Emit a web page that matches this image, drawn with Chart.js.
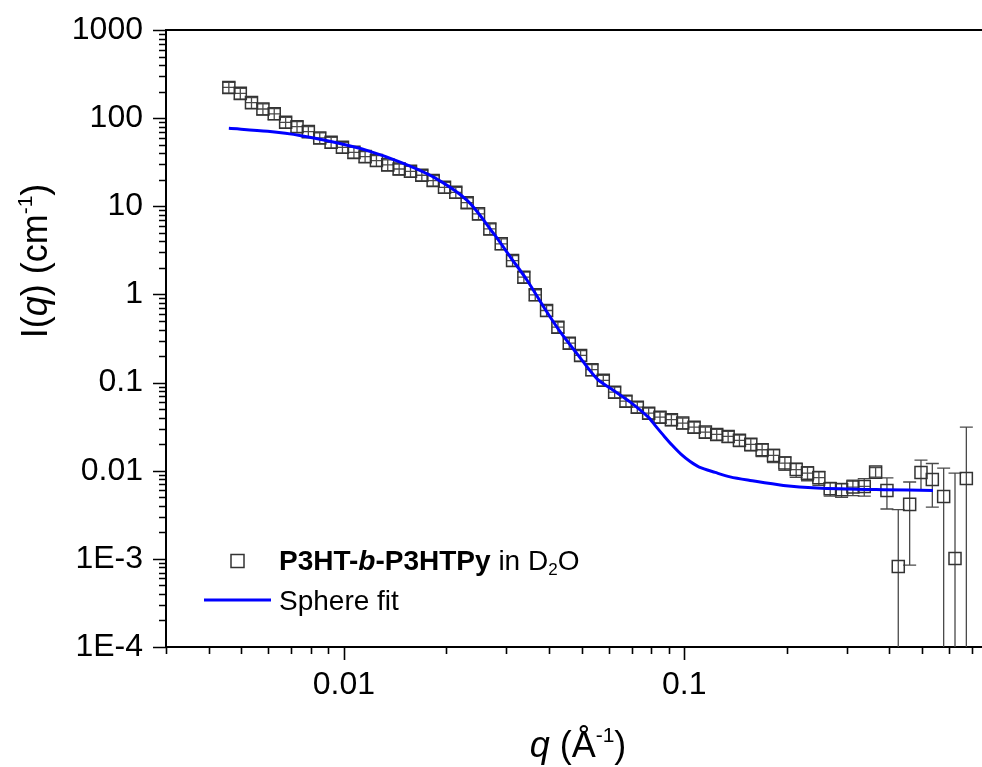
<!DOCTYPE html>
<html>
<head>
<meta charset="utf-8">
<script src="https://cdn.jsdelivr.net/npm/chart.js@4.4.1/dist/chart.umd.min.js"></script>
<style>
  html, body { margin: 0; padding: 0; background: #fff; }
  canvas { display: block; }
</style>
</head>
<body>
<canvas id="sans" width="982" height="767"></canvas>
<script>
// SANS curve, P3HT-b-P3HTPy in D2O
const qData = [
  0.00459, 0.00496, 0.00535, 0.00578, 0.00624, 0.00674, 0.00728, 0.00786, 0.00849, 0.00917,
  0.00990, 0.0107, 0.01154, 0.01246, 0.01345, 0.01453, 0.01569, 0.01694, 0.01829, 0.01975,
  0.02132, 0.02302, 0.02486, 0.02684, 0.02899, 0.0313, 0.03379, 0.03649, 0.0394, 0.04254,
  0.04594, 0.0496, 0.05356, 0.05783, 0.06245, 0.06743, 0.0728, 0.07861, 0.08488, 0.09169,
  0.09899, 0.1069, 0.1154, 0.1246, 0.1346, 0.1453, 0.1569, 0.1694, 0.183, 0.1976,
  0.2133, 0.2303, 0.2487, 0.2685, 0.29, 0.3131, 0.3381, 0.3651, 0.3942, 0.4256,
  0.4597, 0.4963, 0.5359, 0.5786, 0.6248, 0.6746
];
const iData = [
  223, 191, 150, 127, 112, 89.6, 80.1, 70.3, 59.6, 53.2,
  46.7, 40.9, 36.6, 33.0, 29.5, 26.5, 24.9, 22.5, 19.6, 16.4,
  14.4, 11.0, 8.20, 5.54, 3.75, 2.42, 1.57, 0.990, 0.657, 0.425,
  0.280, 0.203, 0.140, 0.106, 0.0778, 0.0615, 0.0526, 0.0450, 0.0405, 0.0379,
  0.0347, 0.0312, 0.0274, 0.0258, 0.0245, 0.0221, 0.0199, 0.0173, 0.0149, 0.0122,
  0.0103, 0.00939, 0.00833, 0.00625, 0.00609, 0.00652, 0.00664, 0.00964, 0.00598, 0.00082,
  0.00415, 0.00957, 0.00797, 0.00511, 0.00101, 0.00818
];
const iErr = [
  31, 27, 21, 18, 16, 12.5, 11.2, 9.8, 8.3, 7.4,
  6.5, 5.7, 5.1, 4.6, 4.1, 3.7, 3.5, 3.1, 2.7, 2.3,
  2.0, 1.5, 1.15, 0.78, 0.52, 0.34, 0.22, 0.14, 0.092, 0.060,
  0.039, 0.028, 0.020, 0.015, 0.011, 0.0086, 0.0074, 0.0063, 0.0057, 0.0053,
  0.0049, 0.0044, 0.0038, 0.0036, 0.0035, 0.0033, 0.0031, 0.0028, 0.0025, 0.0021,
  0.0019, 0.0017, 0.0015, 0.0011, 0.0011, 0.0013, 0.0015, 0.0012, 0.0023, 0.0028,
  0.0033, 0.0036, 0.0041, 0.0056, 0.0084, 0.023
];
const qErr = [
  0.00018, 0.0002, 0.00021, 0.00023, 0.00025, 0.00027, 0.00029, 0.00031, 0.00034, 0.00037,
  0.0004, 0.00043, 0.00046, 0.0005, 0.00054, 0.00058, 0.00063, 0.00068, 0.00073, 0.00079,
  0.00085, 0.00092, 0.00099, 0.00107, 0.00116, 0.00125, 0.00135, 0.00146, 0.00158, 0.0017,
  0.00184, 0.00198, 0.00214, 0.00231, 0.0025, 0.0027, 0.00291, 0.00314, 0.0034, 0.00367,
  0.00396, 0.0043, 0.0046, 0.005, 0.0054, 0.0058, 0.0063, 0.0068, 0.0073, 0.0079,
  0.0085, 0.0092, 0.0099, 0.0107, 0.0116, 0.0125, 0.0135, 0, 0, 0,
  0, 0, 0, 0, 0, 0
];

// sphere form-factor fit
const qFit = [
  0.00459, 0.00597, 0.00748, 0.00937, 0.01174, 0.0147, 0.0184, 0.02306, 0.02759, 0.03088,
  0.03457, 0.03868, 0.04328, 0.04845, 0.05546, 0.06203, 0.06944, 0.0784, 0.0828, 0.0874,
  0.0922, 0.0980, 0.1041, 0.1107, 0.1233, 0.1364, 0.1561, 0.1956, 0.2449, 0.3841,
  0.5384
];
const iFit = [
  76.6, 70.8, 63.3, 53.2, 42.8, 31.5, 21.3, 11.6, 4.86, 2.64,
  1.44, 0.716, 0.373, 0.212, 0.110, 0.0813, 0.0600, 0.0405, 0.0314, 0.0245,
  0.0194, 0.0153, 0.0127, 0.0110, 0.00957, 0.00851, 0.00776, 0.00681, 0.00638, 0.00609,
  0.00598
];

const xTickVals = [0.01, 0.1];
const xTickLabels = ['0.01', '0.1'];
const yTickVals = [1e-4, 1e-3, 0.01, 0.1, 1, 10, 100, 1000];
const yTickLabels = ['1E-4', '1E-3', '0.01', '0.1', '1', '10', '100', '1000'];

const FONT = '"Liberation Sans", Arial, sans-serif';
const SYM = '#333';

function labelFor(vals, labels, v) {
  const i = vals.findIndex(t => Math.abs(t - v) / t < 1e-6);
  return i < 0 ? '' : labels[i];
}

// draw a row of text pieces with mixed fonts (sub/superscripts)
function drawRuns(ctx, x, y, parts, align) {
  let w = 0;
  parts.forEach(p => { ctx.font = p.font; w += ctx.measureText(p.t).width; });
  let cx = align === 'center' ? x - w / 2 : x;
  ctx.textAlign = 'left';
  ctx.textBaseline = 'alphabetic';
  parts.forEach(p => {
    ctx.font = p.font;
    ctx.fillText(p.t, cx, y + (p.dy || 0));
    cx += ctx.measureText(p.t).width;
  });
}

// error bars under the squares
const errorBars = {
  id: 'errorBars',
  beforeDatasetsDraw(chart) {
    const { ctx, chartArea: a, scales: { x, y } } = chart;
    const cap = 6.5;
    ctx.save();
    ctx.beginPath();
    ctx.rect(a.left, a.top, a.right - a.left, a.bottom - a.top);
    ctx.clip();
    ctx.strokeStyle = '#4a4a4a';
    ctx.lineWidth = 1.3;
    qData.forEach((q, i) => {
      const px = x.getPixelForValue(q);
      const py = y.getPixelForValue(iData[i]);
      const hi = y.getPixelForValue(iData[i] + iErr[i]);
      const loV = iData[i] - iErr[i];
      const lo = loV > 0 ? y.getPixelForValue(loV) : a.bottom + 2;
      ctx.beginPath();
      ctx.moveTo(px, lo); ctx.lineTo(px, hi);
      ctx.moveTo(px - cap, hi); ctx.lineTo(px + cap, hi);
      if (loV > 0) { ctx.moveTo(px - cap, lo); ctx.lineTo(px + cap, lo); }
      if (qErr[i] > 0) {
        const l = x.getPixelForValue(q - qErr[i]);
        const r = x.getPixelForValue(q + qErr[i]);
        ctx.moveTo(l, py); ctx.lineTo(r, py);
      }
      ctx.stroke();
    });
    ctx.restore();
  }
};

// ticks, frame, titles and legend
const decor = {
  id: 'decor',
  afterDraw(chart) {
    const { ctx, chartArea: a, scales: { x, y } } = chart;
    ctx.save();
    ctx.strokeStyle = '#000';
    ctx.lineWidth = 1.6;
    ctx.beginPath();
    for (let d = -5; d <= 3; d++) {
      for (let k = 1; k <= 9; k++) {
        const v = k * Math.pow(10, d);
        const len = k === 1 ? 13 : 7;
        if (v >= x.min * 0.999 && v <= x.max * 1.001) {
          const px = Math.round(x.getPixelForValue(v)) + 0.5;
          ctx.moveTo(px, a.bottom); ctx.lineTo(px, a.bottom + len);
        }
        if (v >= y.min * 0.999 && v <= y.max * 1.001) {
          const py = Math.round(y.getPixelForValue(v)) + 0.5;
          ctx.moveTo(a.left, py); ctx.lineTo(a.left - len, py);
        }
      }
    }
    ctx.stroke();

    // top frame line
    ctx.lineWidth = 2;
    ctx.beginPath();
    ctx.moveTo(a.left - 1, a.top); ctx.lineTo(chart.width, a.top);
    ctx.stroke();

    ctx.fillStyle = '#000';
    // x title
    drawRuns(ctx, 578, 757, [
      { t: 'q', font: 'italic 36px ' + FONT },
      { t: ' (Å', font: '36px ' + FONT },
      { t: '-1', font: '21px ' + FONT, dy: -15 },
      { t: ')', font: '36px ' + FONT }
    ], 'center');

    // y title
    ctx.save();
    ctx.translate(47, 261);
    ctx.rotate(-Math.PI / 2);
    drawRuns(ctx, 0, 0, [
      { t: 'I(', font: '36px ' + FONT },
      { t: 'q', font: 'italic 36px ' + FONT },
      { t: ') (cm', font: '36px ' + FONT },
      { t: '-1', font: '21px ' + FONT, dy: -15 },
      { t: ')', font: '36px ' + FONT }
    ], 'center');
    ctx.restore();

    // legend
    ctx.strokeStyle = SYM;
    ctx.lineWidth = 1.5;
    ctx.strokeRect(231, 554.5, 13, 13);
    drawRuns(ctx, 279, 570, [
      { t: 'P3HT-', font: 'bold 28px ' + FONT },
      { t: 'b', font: 'italic bold 28px ' + FONT },
      { t: '-P3HTPy', font: 'bold 28px ' + FONT },
      { t: ' in D', font: '28px ' + FONT },
      { t: '2', font: '17px ' + FONT, dy: 5 },
      { t: 'O', font: '28px ' + FONT }
    ], 'left');
    ctx.strokeStyle = '#0000ff';
    ctx.lineWidth = 3;
    ctx.beginPath();
    ctx.moveTo(204, 600); ctx.lineTo(271, 600);
    ctx.stroke();
    drawRuns(ctx, 279, 610, [{ t: 'Sphere fit', font: '28px ' + FONT }], 'left');
    ctx.restore();
  }
};

new Chart(document.getElementById('sans'), {
  type: 'scatter',
  data: {
    datasets: [
      {
        label: 'Sphere fit',
        type: 'line',
        data: qFit.map((q, i) => ({ x: q, y: iFit[i] })),
        borderColor: '#0000ff',
        borderWidth: 3,
        pointRadius: 0,
        tension: 0.3,
        fill: false,
        order: 0
      },
      {
        label: 'P3HT-b-P3HTPy in D2O',
        data: qData.map((q, i) => ({ x: q, y: iData[i] })),
        pointStyle: 'rect',
        pointRadius: 8.5,
        pointBorderWidth: 1.5,
        pointBorderColor: SYM,
        pointBackgroundColor: 'rgba(0,0,0,0)',
        showLine: false,
        order: 1
      }
    ]
  },
  options: {
    responsive: false,
    devicePixelRatio: 1,
    animation: false,
    events: [],
    layout: { autoPadding: false, padding: { top: 30, right: 0, left: 0, bottom: 0 } },
    plugins: { legend: { display: false }, tooltip: { enabled: false } },
    scales: {
      x: {
        type: 'logarithmic',
        position: 'bottom',
        min: 0.003,
        max: 0.75,
        afterFit: s => { s.height = 120; s.paddingLeft = 0; s.paddingRight = 0; },
        afterBuildTicks: s => { s.ticks = xTickVals.map(v => ({ value: v })); },
        ticks: {
          callback: v => labelFor(xTickVals, xTickLabels, v),
          font: { family: FONT, size: 32 },
          color: '#000',
          padding: 19,
          maxRotation: 0,
          autoSkip: false
        },
        grid: { display: false, drawTicks: false },
        border: { display: true, color: '#000', width: 2 }
      },
      y: {
        type: 'logarithmic',
        position: 'left',
        min: 1e-4,
        max: 1000,
        afterFit: s => { s.width = 166; s.paddingTop = 0; s.paddingBottom = 0; },
        afterBuildTicks: s => { s.ticks = yTickVals.map(v => ({ value: v })); },
        ticks: {
          callback: v => labelFor(yTickVals, yTickLabels, v),
          font: { family: FONT, size: 32 },
          color: '#000',
          padding: 23,
          autoSkip: false
        },
        grid: { display: false, drawTicks: false },
        border: { display: true, color: '#000', width: 2 }
      }
    }
  },
  plugins: [errorBars, decor]
});
</script>
</body>
</html>
